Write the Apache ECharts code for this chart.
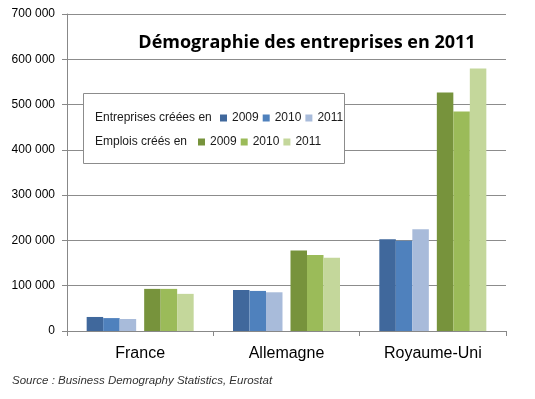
<!DOCTYPE html>
<html>
<head>
<meta charset="utf-8">
<script src="https://cdn.jsdelivr.net/npm/echarts@6/dist/echarts.min.js"></script>
<style>
  html, body { margin: 0; padding: 0; background: #fff; }
  #chart { width: 535px; height: 399px; }
</style>
</head>
<body>
<div id="chart"></div>
<script>
var countries = ['France', 'Allemagne', 'Royaume-Uni'];
var years = ['2009', '2010', '2011'];
var yTicks = [0, 100000, 200000, 300000, 400000, 500000, 600000, 700000];

// entreprises créées
var ent2009 = [31000, 90500, 202500];
var ent2010 = [28500, 88500, 199500];
var ent2011 = [26500, 85500, 224500];
// emplois créés
var emp2009 = [93000, 178000, 526500];
var emp2010 = [93000, 168000, 484500];
var emp2011 = [82000, 162000, 579500];

var blues = ['#40689C', '#4F81BD', '#A8BBDA'];
var greens = ['#77933C', '#9BBB59', '#C4D79B'];

var chart = echarts.init(document.getElementById('chart'));

function fmt(v) {
  return String(v).replace(/\B(?=(\d{3})+(?!\d))/g, ' ');
}

function barSeries(name, data, color) {
  return {
    name: name,
    type: 'bar',
    data: data,
    barWidth: 16.5,
    barGap: '0%',
    itemStyle: { color: color },
    emphasis: { disabled: true }
  };
}

var series = [
  barSeries('Entreprises 2009', ent2009, blues[0]),
  barSeries('Entreprises 2010', ent2010, blues[1]),
  barSeries('Entreprises 2011', ent2011, blues[2]),
  // empty series, only makes the gap between the two groups
  { name: 'gap', type: 'bar', data: [], barWidth: 8, barGap: '0%' },
  barSeries('Emplois 2009', emp2009, greens[0]),
  barSeries('Emplois 2010', emp2010, greens[1]),
  barSeries('Emplois 2011', emp2011, greens[2])
];

var legendText = { fontFamily: 'Liberation Sans', fontSize: 12, color: '#1a1a1a' };

function yearLegend(names, left, top) {
  return {
    data: names,
    left: left, top: top, z: 10, padding: 0,
    icon: 'rect', itemWidth: 7, itemHeight: 7, itemGap: 4,
    formatter: function (n) { return n.split(' ')[1]; },
    textStyle: legendText,
    selectedMode: false
  };
}

var option = {
  animation: false,
  title: {
    text: 'Démographie des entreprises en 2011',
    left: 302,
    textAlign: 'center',
    top: 29,
    textStyle: { fontFamily: 'Open Sans', fontSize: 18, fontWeight: 'bold', color: '#000' }
  },
  grid: { left: 67, right: 29, top: 14, bottom: 68 },
  legend: [
    yearLegend(['Entreprises 2009', 'Entreprises 2010', 'Entreprises 2011'], 220, 112),
    yearLegend(['Emplois 2009', 'Emplois 2010', 'Emplois 2011'], 198, 136)
  ],
  xAxis: {
    type: 'category',
    data: countries,
    axisLine: { lineStyle: { color: '#888', width: 1 } },
    axisTick: { show: true, length: 5, lineStyle: { color: '#888' } },
    axisLabel: { fontFamily: 'Liberation Sans', fontSize: 16, color: '#000', margin: 15 }
  },
  yAxis: {
    type: 'value',
    min: 0, max: 700000, interval: 100000,
    axisLine: { show: true, lineStyle: { color: '#888' } },
    axisTick: { show: true, length: 5, inside: false, lineStyle: { color: '#888' } },
    splitLine: { lineStyle: { color: '#8c8c8c', width: 1 } },
    axisLabel: {
      fontFamily: 'Liberation Sans', fontSize: 12, color: '#000', margin: 12,
      formatter: function (v) { return yTicks.indexOf(v) >= 0 ? fmt(v) : ''; }
    }
  },
  graphic: [
    {
      type: 'rect', z: 3,
      shape: { x: 83.5, y: 93.5, width: 261, height: 70 },
      style: { fill: '#fff', stroke: '#8c8c8c', lineWidth: 1 }
    },
    {
      type: 'text', z: 6, left: 95, top: 112,
      style: { text: 'Entreprises créées en', fontFamily: 'Liberation Sans', fontSize: 12, fill: '#1a1a1a' }
    },
    {
      type: 'text', z: 6, left: 95, top: 136,
      style: { text: 'Emplois créés en', fontFamily: 'Liberation Sans', fontSize: 12, fill: '#1a1a1a' }
    },
    {
      type: 'text', left: 12, top: 375,
      style: { text: 'Source : Business Demography Statistics, Eurostat', fontFamily: 'Liberation Sans', fontSize: 11.5, fontStyle: 'italic', fill: '#333' }
    }
  ],
  series: series
};

chart.setOption(option);
</script>
</body>
</html>
